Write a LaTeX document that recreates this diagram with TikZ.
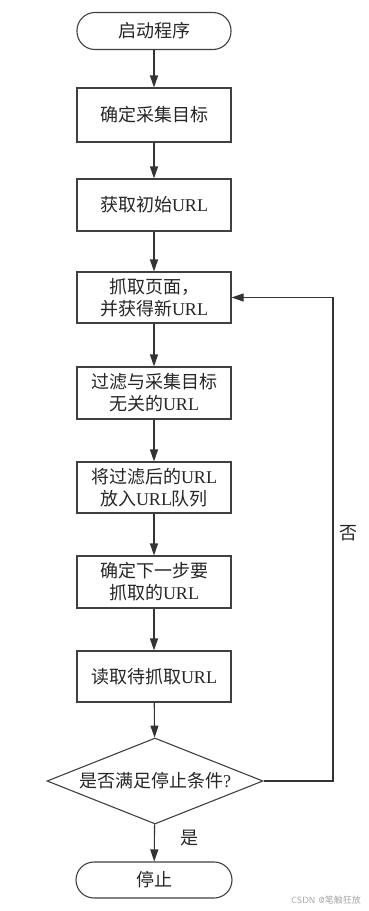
\documentclass[tikz,border=0pt]{standalone}
\usepackage{fontspec}
\setmainfont{Liberation Serif}
\newfontfamily\cjk{Noto Sans CJK SC}
\usetikzlibrary{shapes.geometric,arrows.meta}
\newcommand{\myurl}{\textrm{URL}}
\begin{document}
\begin{tikzpicture}[x=1pt,y=-1pt,
  every node/.style={font=\cjk\fontsize{18}{22}\selectfont, text=black!85},
  procbox/.style={draw=black!75, line width=1.1pt, minimum width=154pt, inner sep=0pt, align=center},
  termbox/.style={draw=black!75, line width=1.1pt, minimum width=154pt, minimum height=37pt, rounded corners=18pt, inner sep=0pt},
  decbox/.style={draw=black!75, line width=1.1pt, diamond, aspect=2.5, minimum width=216pt, minimum height=86pt, inner sep=0pt},
  flow/.style={draw=black!80, line width=1.1pt, -{Triangle[length=12pt,width=8pt]}},
  lbl/.style={font=\cjk\fontsize{18}{20}\selectfont}
]
\useasboundingbox (0,0) rectangle (368,911);
\node[termbox] (start) at (154,31) {启动程序};
\node[procbox, minimum height=54pt] (b1) at (154,115) {确定采集目标};
\node[procbox, minimum height=52pt] (b2) at (154,205) {获取初始\myurl};
\node[procbox, minimum height=51pt] (b3) at (154,297.5) {抓取页面，\\并获得新\myurl};
\node[procbox, minimum height=52pt] (b4) at (154,393) {过滤与采集目标\\无关的\myurl};
\node[procbox, minimum height=51pt] (b5) at (154,487.5) {将过滤后的\myurl\\放入\myurl 队列};
\node[procbox, minimum height=52pt] (b6) at (154,582) {确定下一步要\\抓取的\myurl};
\node[procbox, minimum height=51pt] (b7) at (154,676.5) {读取待抓取\myurl};
\node[decbox] (d) at (155,781) {是否满足停止条件\textrm{?}};
\node[termbox, minimum width=156pt, minimum height=36pt] (stop) at (154,880) {停止};
\coordinate (c1) at (333,781);
\coordinate (c2) at (333,297.5);
\draw[flow] (start) -- (b1);
\draw[flow] (b1) -- (b2);
\draw[flow] (b2) -- (b3);
\draw[flow] (b3) -- (b4);
\draw[flow] (b4) -- (b5);
\draw[flow] (b5) -- (b6);
\draw[flow] (b6) -- (b7);
\draw[flow] (b7) -- (d);
\draw[flow] (d) -- (stop);
\draw[flow] (d.east) -- (c1) -- (c2) -- (b3.east);
\node[lbl] (yes) at (189,838) {是};
\node[lbl] (no) at (348,533) {否};
\node[font=\sffamily\fontsize{9}{10}\selectfont, text=black!35] (wm) at (326,900) {CSDN @{\cjk 笔触狂放}};
\end{tikzpicture}
\end{document}
